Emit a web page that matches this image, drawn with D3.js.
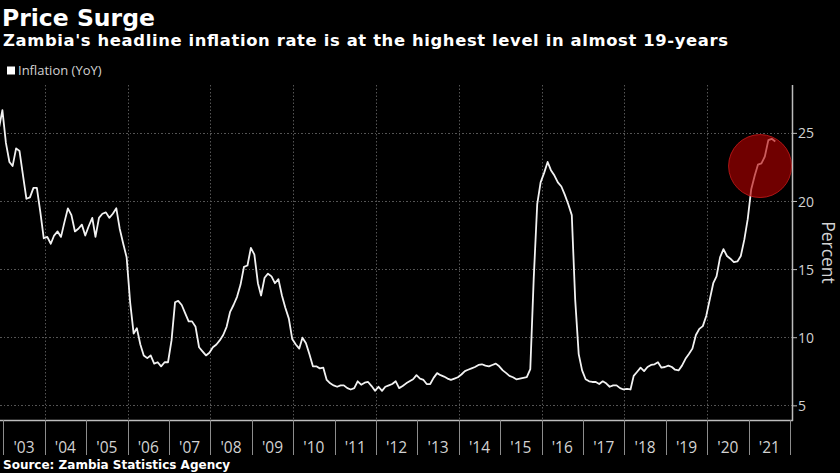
<!DOCTYPE html>
<html><head><meta charset="utf-8">
<script src="https://cdn.jsdelivr.net/npm/d3@7"></script>
<style>html,body{margin:0;padding:0;background:#000;} svg{display:block}</style>
</head><body>
<svg id="chart" width="840" height="473"></svg>
<script>
// ---------- data ----------
const titleText = "Price Surge";
const subtitleText = "Zambia's headline inflation rate is at the highest level in almost 19-years";
const legendLabel = "Inflation (YoY)";
const sourceText = "Source: Zambia Statistics Agency";
const axisTitle = "Percent";

const firstMonth = [2002, 10]; // November 2002 (year, zero-based month)
const inflation2002 = [25.4, 26.7];
const inflation2003 = [24.3, 22.9, 22.6, 23.9, 23.7, 21.9, 20.2, 20.3, 21.0, 21.0, 19.2, 17.3];
const inflation2004 = [17.4, 16.9, 17.5, 17.8, 17.4, 18.5, 19.5, 19.0, 17.8, 18.0, 18.3, 17.5];
const inflation2005 = [18.2, 18.8, 17.4, 18.8, 19.1, 19.2, 18.8, 19.1, 19.5, 18.0, 16.9, 15.9];
const inflation2006 = [12.6, 10.3, 10.7, 9.5, 8.7, 8.5, 8.7, 8.1, 8.2, 7.9, 8.2, 8.2];
const inflation2007 = [9.8, 12.6, 12.7, 12.4, 11.8, 11.2, 11.2, 10.8, 9.3, 9.0, 8.7, 8.9];
const inflation2008 = [9.3, 9.5, 9.8, 10.2, 10.8, 11.9, 12.4, 13.0, 13.9, 15.2, 15.3, 16.6];
const inflation2009 = [16.1, 14.0, 13.1, 14.4, 14.7, 14.5, 14.0, 14.3, 13.1, 12.2, 11.4, 9.9];
const inflation2010 = [9.5, 9.2, 10.0, 9.6, 8.8, 7.9, 7.9, 7.75, 7.8, 6.9, 6.65, 6.5];
const inflation2011 = [6.4, 6.5, 6.5, 6.3, 6.2, 6.3, 6.8, 6.55, 6.7, 6.75, 6.45, 6.1];
const inflation2012 = [6.4, 6.1, 6.4, 6.5, 6.6, 6.8, 6.3, 6.45, 6.65, 6.8, 6.95, 7.25];
const inflation2013 = [7.0, 6.9, 6.6, 6.6, 7.05, 7.4, 7.25, 7.15, 7.0, 6.9, 7.0, 7.1];
const inflation2014 = [7.3, 7.55, 7.65, 7.75, 7.85, 8.0, 8.05, 7.95, 7.9, 8.0, 8.1, 7.9];
const inflation2015 = [7.6, 7.4, 7.2, 7.1, 6.95, 7.0, 7.05, 7.1, 7.7, 14.3, 19.8, 21.4];
const inflation2016 = [22.1, 22.9, 22.3, 21.9, 21.4, 21.1, 20.5, 19.8, 19.0, 12.8, 8.8, 7.6];
const inflation2017 = [6.95, 6.8, 6.75, 6.75, 6.6, 6.8, 6.65, 6.4, 6.5, 6.5, 6.3, 6.2];
const inflation2018 = [6.25, 6.2, 7.2, 7.5, 7.8, 7.55, 7.85, 8.0, 8.05, 8.2, 7.8, 7.85];
const inflation2019 = [7.95, 7.85, 7.65, 7.6, 7.95, 8.45, 8.8, 9.2, 10.2, 10.65, 10.85, 11.6];
const inflation2020 = [12.8, 14.0, 14.5, 15.9, 16.5, 16.0, 15.8, 15.55, 15.6, 16.0, 17.2, 18.7];
const inflation2021 = [20.9, 21.9, 22.7, 22.8, 23.3, 24.5, 24.6, 24.4];

const yTickValues = [5, 10, 15, 20, 25];
const yearTickYears = d3.range(2003, 2023);          // year boundaries '03 .. '22
const yearLabels = ["'03","'04","'05","'06","'07","'08","'09","'10","'11","'12",
                    "'13","'14","'15","'16","'17","'18","'19","'20","'21"];
const gridYears = [2004, 2006, 2008, 2010, 2012, 2014, 2016, 2018, 2020];
const highlight = { year: 2021, month: 3, day: 12, value: 22.6 };

// ---------- build series ----------
const values = [].concat(inflation2002, inflation2003, inflation2004, inflation2005,
  inflation2006, inflation2007, inflation2008, inflation2009, inflation2010, inflation2011,
  inflation2012, inflation2013, inflation2014, inflation2015, inflation2016, inflation2017,
  inflation2018, inflation2019, inflation2020, inflation2021);
const series = values.map((v, i) => ({
  date: new Date(firstMonth[0], firstMonth[1] + i, 24),
  value: v
}));

// ---------- layout ----------
const svg = d3.select("#chart");
const W = 840, H = 473;
svg.append("rect").attr("width", W).attr("height", H).attr("fill", "#000");

const plot = { left: 0, right: 792, top: 85, bottom: 420 };

const x = d3.scaleTime()
  .domain([new Date(2003, 0, 1), new Date(2022, 0, 1)])
  .range([3.3, 790]);
const y = d3.scaleLinear()
  .domain([3.96, 28.55])
  .range([plot.bottom, plot.top]);

const gridColor = "#555555";

// horizontal grid
svg.append("g").selectAll("line").data(yTickValues).join("line")
  .attr("x1", plot.left).attr("x2", plot.right)
  .attr("y1", d => y(d)).attr("y2", d => y(d))
  .attr("stroke", gridColor).attr("stroke-width", 1)
  .attr("stroke-dasharray", "1.5,2").attr("shape-rendering", "crispEdges");

// vertical grid
svg.append("g").selectAll("line").data(gridYears).join("line")
  .attr("x1", d => Math.round(x(new Date(d, 0, 1))) + 0.5)
  .attr("x2", d => Math.round(x(new Date(d, 0, 1))) + 0.5)
  .attr("y1", plot.top).attr("y2", plot.bottom)
  .attr("stroke", gridColor).attr("stroke-width", 1)
  .attr("stroke-dasharray", "1.5,2");

// clip
svg.append("clipPath").attr("id", "clip").append("rect")
  .attr("x", plot.left).attr("y", plot.top - 10)
  .attr("width", plot.right - plot.left).attr("height", plot.bottom - plot.top + 10);

// line
const line = d3.line().x(d => x(d.date)).y(d => y(d.value));
svg.append("path").datum(series)
  .attr("clip-path", "url(#clip)")
  .attr("d", line)
  .attr("fill", "none").attr("stroke", "#f2f2f2")
  .attr("stroke-width", 1.8).attr("stroke-linejoin", "round");

// highlight circle
svg.append("circle")
  .attr("cx", x(new Date(highlight.year, highlight.month, highlight.day)))
  .attr("cy", y(highlight.value))
  .attr("r", 31.5)
  .attr("fill", "#b40000").attr("fill-opacity", 0.62)
  .attr("stroke", "#c81a1a").attr("stroke-opacity", 0.8).attr("stroke-width", 1);

// x axis
const axisColor = "#bdbdbd";
svg.append("line")
  .attr("x1", plot.left).attr("x2", plot.right + 1)
  .attr("y1", plot.bottom + 0.5).attr("y2", plot.bottom + 0.5)
  .attr("stroke", axisColor).attr("stroke-width", 1.5);
svg.append("g").selectAll("line").data(yearTickYears).join("line")
  .attr("x1", d => Math.round(x(new Date(d, 0, 1))) + 0.5)
  .attr("x2", d => Math.round(x(new Date(d, 0, 1))) + 0.5)
  .attr("y1", plot.bottom).attr("y2", plot.bottom + 35)
  .attr("stroke", "#8c8c8c").attr("stroke-width", 1);
svg.append("g").selectAll("text").data(yearLabels).join("text")
  .attr("x", (d, i) => (x(new Date(2003 + i, 0, 1)) + x(new Date(2004 + i, 0, 1))) / 2)
  .attr("y", 453)
  .attr("text-anchor", "middle")
  .attr("fill", "#d2d2d2")
  .attr("font-family", "'Open Sans', sans-serif")
  .attr("font-size", 15.5)
  .text(d => d);

// y axis (right)
svg.append("line")
  .attr("x1", plot.right + 0.5).attr("x2", plot.right + 0.5)
  .attr("y1", plot.top).attr("y2", plot.bottom + 1)
  .attr("stroke", axisColor).attr("stroke-width", 1.5);
svg.append("g").selectAll("line").data(yTickValues).join("line")
  .attr("x1", plot.right).attr("x2", plot.right + 5)
  .attr("y1", d => y(d)).attr("y2", d => y(d))
  .attr("stroke", axisColor).attr("stroke-width", 1);
svg.append("g").selectAll("text").data(yTickValues).join("text")
  .attr("x", plot.right + 6)
  .attr("y", d => y(d))
  .attr("dy", "0.36em")
  .attr("fill", "#d2d2d2")
  .attr("font-family", "'Open Sans', sans-serif")
  .attr("font-size", 14)
  .text(d => d);
svg.append("text")
  .attr("transform", `translate(822, ${(plot.top + plot.bottom) / 2}) rotate(90)`)
  .attr("text-anchor", "middle")
  .attr("fill", "#d2d2d2")
  .attr("font-family", "'Open Sans', sans-serif")
  .attr("font-size", 17.5)
  .text(axisTitle);

// titles
svg.append("text").attr("x", 2).attr("y", 26)
  .attr("fill", "#fff").attr("font-family", "'DejaVu Sans', sans-serif")
  .attr("font-weight", "bold").attr("font-size", 23.5).text(titleText);
svg.append("text").attr("x", 3).attr("y", 46)
  .attr("fill", "#fff").attr("font-family", "'DejaVu Sans', sans-serif")
  .attr("font-weight", "bold").attr("font-size", 16.4)
  .attr("textLength", 725).attr("lengthAdjust", "spacing")
  .text(subtitleText);

// legend
svg.append("rect").attr("x", 7).attr("y", 66.5).attr("width", 8).attr("height", 8).attr("fill", "#fff");
svg.append("text").attr("x", 18).attr("y", 74.5)
  .attr("fill", "#d2d2d2").attr("font-family", "'Open Sans', sans-serif")
  .attr("font-size", 13).text(legendLabel);

// source
svg.append("text").attr("x", 3).attr("y", 469)
  .attr("fill", "#fff").attr("font-family", "'DejaVu Sans', sans-serif")
  .attr("font-weight", "bold").attr("font-size", 12).text(sourceText);
</script>
</body></html>
